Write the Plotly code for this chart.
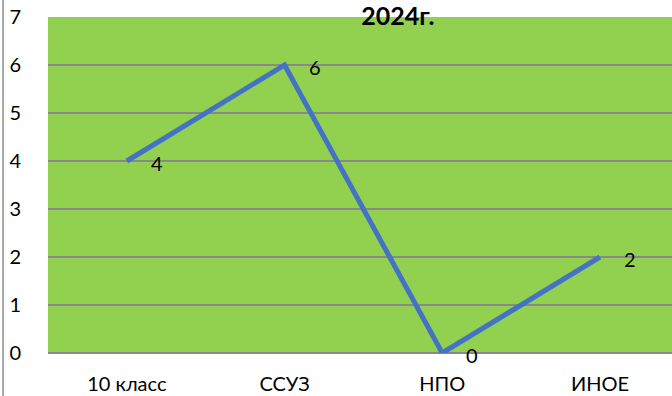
import plotly.graph_objects as go

categories = ["10 класс", "ССУЗ", "НПО", "ИНОЕ"]
values = [4, 6, 0, 2]
y_ticks = [0, 1, 2, 3, 4, 5, 6, 7]
title_text = "2024г."

FONT = "Lato, 'Open Sans', sans-serif"

fig = go.Figure()
fig.add_trace(go.Scatter(
    x=categories, y=values, mode="lines",
    line=dict(color="#4472C4", width=5),
    hoverinfo="skip", showlegend=False,
))

for c, v in zip(categories, values):
    fig.add_annotation(x=c, y=v, xref="x", yref="y", text=str(v),
                       showarrow=False, xshift=30, yshift=-2,
                       font=dict(family=FONT, size=20, color="#000000"))

# chart frame left border
fig.add_shape(type="line", xref="paper", yref="paper",
              x0=-0.072, x1=-0.072, y0=-0.2, y1=1.1,
              line=dict(color="#A6A6A6", width=2))

fig.update_layout(
    width=672, height=396,
    margin=dict(l=48, r=0, t=17, b=43, autoexpand=False),
    paper_bgcolor="#FFFFFF",
    plot_bgcolor="#92D050",
    font=dict(family=FONT, size=20, color="#000000"),
    title=dict(text="<b>" + title_text + "</b>", x=0.592, xanchor="center",
               y=0.958, yanchor="middle", xref="container", yref="container",
               font=dict(family=FONT, size=25, color="#000000"),
               automargin=False),
    xaxis=dict(
        type="category", categoryorder="array", categoryarray=categories,
        range=[-0.5, 3.457], showgrid=False, zeroline=False,
        showline=False, ticks="", ticklabelstandoff=17, automargin=False,
        tickfont=dict(family=FONT, size=20),
    ),
    yaxis=dict(
        range=[0, 7], tickvals=y_ticks, showgrid=True,
        gridcolor="#898989", gridwidth=2, zeroline=True,
        zerolinecolor="#898989", zerolinewidth=2, showline=False,
        ticks="", ticklabelstandoff=26, automargin=False,
        tickfont=dict(family=FONT, size=20),
    ),
)

fig.write_html("out.html", config={"displayModeBar": False},
               post_script="document.body.style.margin='0';")
